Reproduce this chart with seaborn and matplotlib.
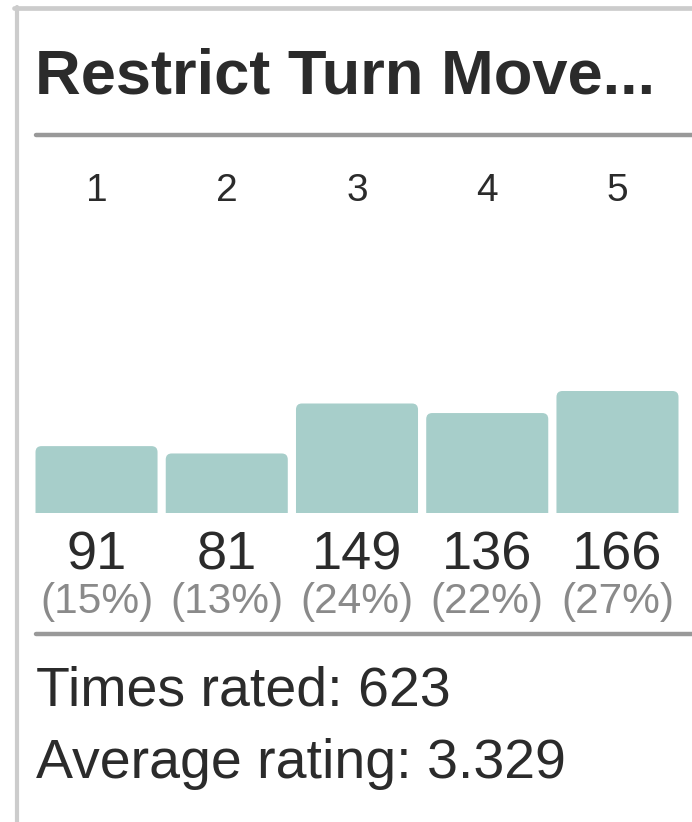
import matplotlib
matplotlib.use("Agg")
import matplotlib.pyplot as plt
from matplotlib.lines import Line2D
from matplotlib.patches import FancyBboxPatch
import seaborn as sns
import pandas as pd

# ----------- Data -----------
title = "Restrict Turn Move..."
ratings = ["1", "2", "3", "4", "5"]
counts = [91, 81, 149, 136, 166]
percents = [15, 13, 24, 22, 27]
times_rated = 623
average_rating = 3.329

# ----------- Figure setup (pixel based layout) -----------
W, H = 692, 822
sns.set_theme(style="white")
plt.rcParams["font.family"] = ["Liberation Sans", "DejaVu Sans"]

fig = plt.figure(figsize=(W / 100, H / 100), dpi=100)

def fx(px):
    return px / W

def fy(py):
    return 1 - py / H

bar_color = "#a7ceca"
text_dark = "#2b2b2b"
text_gray = "#8a8a8a"

# bars axes: bottom at y=513, top at y=210
ax_left, ax_right = 31.4, 682.6
ax_top, ax_bottom = 210, 513
ax = fig.add_axes([fx(ax_left), fy(ax_bottom), fx(ax_right - ax_left), (ax_bottom - ax_top) / H])

df = pd.DataFrame({"rating": ratings, "count": counts})
sns.barplot(data=df, x="rating", y="count", color=bar_color, width=0.937,
            saturation=1, ax=ax)

ymax = max(counts) * (ax_bottom - ax_top) / 122
ax.set_xlim(-0.5, len(ratings) - 0.5)
ax.set_ylim(0, ymax)

# swap plain bars for ones with rounded top corners
px_per_x = (ax_right - ax_left) / len(ratings)
px_per_y = (ax_bottom - ax_top) / ymax
radius_px = 6
for p in list(ax.patches):
    x0, w, h = p.get_x(), p.get_width(), p.get_height()
    r = radius_px / px_per_x
    ext = radius_px / px_per_y
    fb = FancyBboxPatch((x0, -ext), w, h + ext,
                        boxstyle=f"round,pad=0,rounding_size={r}",
                        mutation_aspect=px_per_x / px_per_y,
                        facecolor=bar_color, edgecolor="none", clip_on=True)
    p.remove()
    ax.add_patch(fb)

ax.xaxis.tick_top()
ax.tick_params(axis="x", length=0, pad=0.5, labelsize=28, labelcolor=text_dark)
ax.set_yticks([])
ax.set_xlabel("")
ax.set_ylabel("")
for s in ax.spines.values():
    s.set_visible(False)
ax.patch.set_alpha(0)

# counts and percentages under each bar
for i, (c, pc) in enumerate(zip(counts, percents)):
    ax.annotate(str(c), xy=(i, 0), xytext=(0, -(569 - 513) * 0.72),
                textcoords="offset points", ha="center", va="baseline",
                fontsize=39, color=text_dark)
    ax.annotate(f"({pc}%)", xy=(i, 0), xytext=(0, -(613 - 513) * 0.72),
                textcoords="offset points", ha="center", va="baseline",
                fontsize=30.5, color=text_gray)

# ----------- Frame, title, separators -----------
fig.add_artist(Line2D([fx(16.5), fx(16.5)], [fy(7), fy(H)], color="#cccccc", lw=3))
fig.add_artist(Line2D([fx(14), fx(W)], [fy(8.5), fy(8.5)], color="#cccccc", lw=3.4))

fig.text(fx(35), fy(93), title, fontsize=45.5, fontweight="bold",
         color=text_dark, ha="left", va="baseline")

fig.add_artist(Line2D([fx(36), fx(W)], [fy(135.5), fy(135.5)], color="#999999", lw=3.2))
fig.add_artist(Line2D([fx(36), fx(W)], [fy(634), fy(634)], color="#999999", lw=3.2))

fig.text(fx(36), fy(706), f"Times rated: {times_rated}", fontsize=40,
         color=text_dark, ha="left", va="baseline")
fig.text(fx(36), fy(778), f"Average rating: {average_rating}", fontsize=40,
         color=text_dark, ha="left", va="baseline")

fig.savefig("out.png", dpi=100, facecolor="white")
